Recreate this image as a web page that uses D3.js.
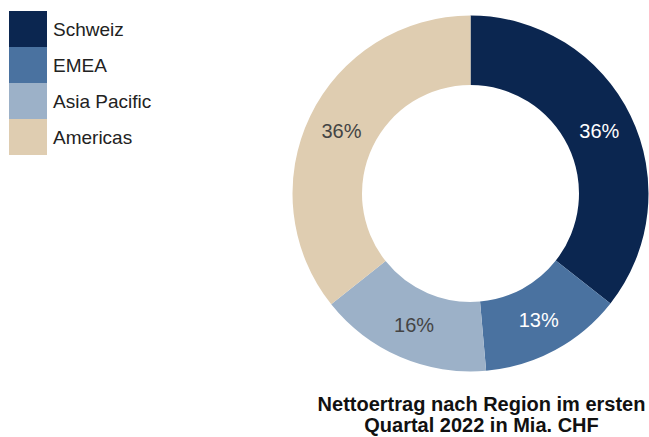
<!DOCTYPE html>
<html>
<head>
<meta charset="utf-8">
<script src="https://cdn.jsdelivr.net/npm/d3@7"></script>
<style>
    html, body { margin: 0; padding: 0; background: #fff; }
    svg { display: block; }
</style>
</head>
<body>
<div id="chart"></div>
<script>
// regions, share of net revenue (%) and printed labels
const regions = ["Schweiz", "EMEA", "Asia Pacific", "Americas"];
const shares = [35.6, 13.0, 15.7, 35.7];
const labels = ["36%", "13%", "16%", "36%"];
const colors = ["#0b2650", "#4a72a0", "#9cb1c8", "#dfcdb1"];
const labelColors = ["#ffffff", "#ffffff", "#444444", "#444444"];
const titleLines = ["Nettoertrag nach Region im ersten", "Quartal 2022 in Mia. CHF"];

const width = 649, height = 437;
const center = { x: 470.5, y: 193.5 };
const outerR = 178, innerR = 108.5;
const font = "'Liberation Sans', Arial, Helvetica, sans-serif";

const svg = d3.select("#chart").append("svg")
    .attr("width", width)
    .attr("height", height);

// donut
const pie = d3.pie().sort(null).value(d => d.value);
const arc = d3.arc().innerRadius(innerR).outerRadius(outerR);
const arcs = pie(regions.map((r, i) => ({ region: r, value: shares[i], i })));

const g = svg.append("g")
    .attr("transform", `translate(${center.x}, ${center.y})`);

g.selectAll("path")
    .data(arcs)
    .join("path")
    .attr("d", arc)
    .attr("fill", d => colors[d.data.i]);

g.selectAll("text")
    .data(arcs)
    .join("text")
    .attr("transform", d => `translate(${arc.centroid(d)})`)
    .attr("text-anchor", "middle")
    .attr("dy", "0.36em")
    .attr("font-family", font)
    .attr("font-size", 20)
    .attr("fill", d => labelColors[d.data.i])
    .text(d => labels[d.data.i]);

// legend
const legendY = d3.scaleBand().domain(regions).range([11, 155]);
const legend = svg.append("g");
const rows = legend.selectAll("g")
    .data(regions)
    .join("g")
    .attr("transform", d => `translate(9, ${legendY(d)})`);

rows.append("rect")
    .attr("width", 38)
    .attr("height", legendY.bandwidth())
    .attr("fill", (d, i) => colors[i]);

rows.append("text")
    .attr("x", 44)
    .attr("y", legendY.bandwidth() / 2)
    .attr("dy", "0.36em")
    .attr("font-family", font)
    .attr("font-size", 19)
    .attr("fill", "#222")
    .text(d => d);

// title
svg.append("text")
    .attr("text-anchor", "middle")
    .attr("font-family", font)
    .attr("font-size", 20)
    .attr("font-weight", "bold")
    .attr("fill", "#111")
    .selectAll("tspan")
    .data(titleLines)
    .join("tspan")
    .attr("x", 481.5)
    .attr("y", (d, i) => 410.5 + i * 21.5)
    .text(d => d);
</script>
</body>
</html>
